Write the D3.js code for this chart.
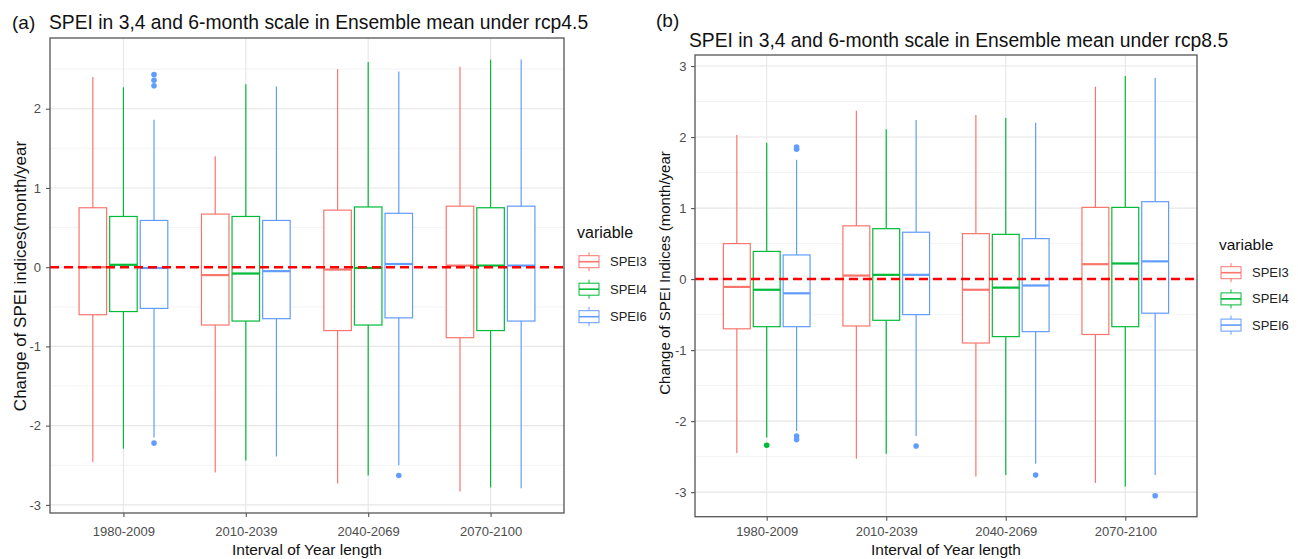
<!DOCTYPE html>
<html><head><meta charset="utf-8">
<script src="https://cdn.jsdelivr.net/npm/d3@7"></script>
<style>body{margin:0;background:#fff;} svg{display:block;font-family:"Liberation Sans",Arial,sans-serif;}</style>
</head><body><svg id="c" width="1298" height="559"></svg>
<script>
// ---------- data ----------
const periods = ["1980-2009","2010-2039","2040-2069","2070-2100"];
const variables = ["SPEI3","SPEI4","SPEI6"];
const colors = ["#F8766D","#00BA38","#619CFF"];
const yTickValues = [-3,-2,-1,0,1,2,3];
const yTickLabels = ["-3","-2","-1","0","1","2","3"];
const refLine = 0;

// rcp4.5 — rows: SPEI3, SPEI4, SPEI6; columns: periods
const r45_lower  = [[-2.46,-2.59,-2.73,-2.83],[-2.29,-2.44,-2.63,-2.78],[-2.15,-2.39,-2.50,-2.79]];
const r45_q1     = [[-0.60,-0.73,-0.80,-0.89],[-0.56,-0.68,-0.73,-0.80],[-0.52,-0.65,-0.64,-0.68]];
const r45_median = [[ 0.00,-0.10,-0.03, 0.02],[ 0.03,-0.08,-0.01, 0.02],[-0.01,-0.05, 0.04, 0.02]];
const r45_q3     = [[ 0.75, 0.67, 0.72, 0.77],[ 0.64, 0.64, 0.76, 0.75],[ 0.59, 0.59, 0.68, 0.77]];
const r45_upper  = [[ 2.40, 1.40, 2.50, 2.53],[ 2.27, 2.31, 2.59, 2.62],[ 1.86, 2.28, 2.47, 2.62]];
const r45_outliers = [["1980-2009","SPEI6",2.43],["1980-2009","SPEI6",2.36],["1980-2009","SPEI6",2.29],
                      ["1980-2009","SPEI6",-2.22],["2040-2069","SPEI6",-2.63]];

// rcp8.5
const r85_lower  = [[-2.45,-2.53,-2.78,-2.87],[-2.23,-2.46,-2.76,-2.92],[-2.14,-2.21,-2.60,-2.76]];
const r85_q1     = [[-0.70,-0.66,-0.90,-0.78],[-0.67,-0.58,-0.81,-0.67],[-0.67,-0.50,-0.74,-0.48]];
const r85_median = [[-0.11, 0.05,-0.15, 0.21],[-0.15, 0.06,-0.12, 0.22],[-0.20, 0.06,-0.09, 0.25]];
const r85_q3     = [[ 0.50, 0.75, 0.64, 1.01],[ 0.39, 0.71, 0.63, 1.01],[ 0.34, 0.66, 0.57, 1.09]];
const r85_upper  = [[ 2.03, 2.37, 2.31, 2.71],[ 1.92, 2.11, 2.27, 2.86],[ 1.68, 2.24, 2.20, 2.83]];
const r85_outliers = [["1980-2009","SPEI4",-2.34],["1980-2009","SPEI6",1.86],["1980-2009","SPEI6",1.83],
                      ["1980-2009","SPEI6",-2.21],["1980-2009","SPEI6",-2.26],["2010-2039","SPEI6",-2.35],
                      ["2040-2069","SPEI6",-2.76],["2070-2100","SPEI6",-3.05]];

// ---------- drawing ----------
const svg = d3.select("#c");
svg.append("rect").attr("width",1298).attr("height",559).attr("fill","#fff");

function panel(P){
  const g = svg.append("g");
  const x = d3.scalePoint().domain(periods).range([P.left,P.right]).padding(0.6);
  const step = x.step();
  const inner = d3.scaleBand().domain(variables).range([-0.375*step,0.375*step]);
  const bw = inner.bandwidth()*0.9;
  const vals = [...P.lower.flat(),...P.upper.flat(),...P.out.map(d=>d[2])];
  const [mn,mx] = d3.extent(vals); const pad=(mx-mn)*0.05;
  const y = d3.scaleLinear().domain([mn-pad,mx+pad]).range([P.bottom,P.top]);
  const [d0,d1] = y.domain();

  g.append("rect").attr("x",P.left).attr("y",P.top).attr("width",P.right-P.left).attr("height",P.bottom-P.top).attr("fill","#fff");
  const major = yTickValues.filter(t=>t>=d0&&t<=d1);
  const minor = d3.range(-3.5,3.6,1).filter(t=>t>=d0&&t<=d1);
  g.selectAll(".mn").data(minor).join("line").attr("x1",P.left).attr("x2",P.right)
    .attr("y1",d=>y(d)).attr("y2",d=>y(d)).attr("stroke","#F0F0F0").attr("stroke-width",0.8);
  g.selectAll(".mj").data(major).join("line").attr("x1",P.left).attr("x2",P.right)
    .attr("y1",d=>y(d)).attr("y2",d=>y(d)).attr("stroke","#E6E6E6").attr("stroke-width",1.1);
  g.selectAll(".vx").data(periods).join("line").attr("x1",d=>x(d)).attr("x2",d=>x(d))
    .attr("y1",P.top).attr("y2",P.bottom).attr("stroke","#E6E6E6").attr("stroke-width",1.1);

  const boxes=[];
  variables.forEach((v,vi)=>periods.forEach((p,pi)=>{
    boxes.push({v,vi,p,cx:x(p)+inner(v)+inner.bandwidth()/2,
      lo:P.lower[vi][pi],q1:P.q1[vi][pi],md:P.median[vi][pi],q3:P.q3[vi][pi],hi:P.upper[vi][pi]});
  }));
  const bg = g.selectAll(".box").data(boxes).join("g");
  bg.append("line").attr("x1",d=>d.cx).attr("x2",d=>d.cx).attr("y1",d=>y(d.hi)).attr("y2",d=>y(d.q3))
    .attr("stroke",d=>colors[d.vi]).attr("stroke-width",1.2);
  bg.append("line").attr("x1",d=>d.cx).attr("x2",d=>d.cx).attr("y1",d=>y(d.q1)).attr("y2",d=>y(d.lo))
    .attr("stroke",d=>colors[d.vi]).attr("stroke-width",1.2);
  bg.append("rect").attr("x",d=>d.cx-bw/2).attr("width",bw).attr("y",d=>y(d.q3)).attr("height",d=>y(d.q1)-y(d.q3))
    .attr("fill","#fff").attr("stroke",d=>colors[d.vi]).attr("stroke-width",1.2);
  bg.append("line").attr("x1",d=>d.cx-bw/2).attr("x2",d=>d.cx+bw/2).attr("y1",d=>y(d.md)).attr("y2",d=>y(d.md))
    .attr("stroke",d=>colors[d.vi]).attr("stroke-width",2.2);
  g.selectAll(".out").data(P.out).join("circle")
    .attr("cx",d=>x(d[0])+inner(d[1])+inner.bandwidth()/2).attr("cy",d=>y(d[2])).attr("r",2.8)
    .attr("fill",d=>colors[variables.indexOf(d[1])]);

  g.append("line").attr("x1",P.left).attr("x2",P.right).attr("y1",y(refLine)).attr("y2",y(refLine))
    .attr("stroke","#FF0000").attr("stroke-width",2.5).attr("stroke-dasharray","9,5");

  g.append("rect").attr("x",P.left).attr("y",P.top).attr("width",P.right-P.left).attr("height",P.bottom-P.top)
    .attr("fill","none").attr("stroke","#555").attr("stroke-width",1.3);

  const ya = g.append("g").attr("transform",`translate(${P.left},0)`)
    .call(d3.axisLeft(y).tickValues(major).tickFormat(d=>yTickLabels[yTickValues.indexOf(d)]).tickSize(4).tickPadding(P.yPad));
  const xa = g.append("g").attr("transform",`translate(0,${P.bottom})`)
    .call(d3.axisBottom(x).tickSize(4).tickPadding(P.xPad));
  [ya,xa].forEach(a=>{a.select(".domain").remove();
    a.selectAll(".tick line").attr("stroke","#555").attr("stroke-width",1.1);
    a.selectAll("text").attr("fill","#4d4d4d").attr("font-size",13).attr("font-family","Liberation Sans, Arial, sans-serif");});

  // axis titles
  g.append("text").attr("transform",`translate(${P.ytX},${P.ytY}) rotate(-90)`).attr("text-anchor","middle")
    .attr("dy","0.35em").attr("font-size",P.ytSize).attr("fill","#111").text(P.ytitle);
  g.append("text").attr("x",(P.left+P.right)/2).attr("y",555).attr("text-anchor","middle")
    .attr("font-size",15.5).attr("fill","#111").text("Interval of Year length");

  // titles
  g.append("text").attr("x",P.tagX).attr("y",P.tagY).attr("font-size",19).attr("fill","#111").text(P.tag);
  g.append("text").attr("x",P.titleX).attr("y",P.titleY).attr("font-size",19.3).attr("fill","#111").text(P.title);

  // legend
  const lg = g.append("g");
  lg.append("text").attr("x",P.lgX).attr("y",P.lgTitleY).attr("font-size",P.lgTitleSize).attr("fill","#111").text("variable");
  variables.forEach((v,i)=>{
    const cy = P.lgKeyY + i*P.lgStep, kx = P.lgX+2;
    const k = lg.append("g").attr("stroke",colors[i]).attr("fill","none").attr("stroke-width",1);
    k.append("line").attr("x1",kx+10).attr("x2",kx+10).attr("y1",cy-9.5).attr("y2",cy+9.5);
    k.append("rect").attr("x",kx).attr("y",cy-6).attr("width",20).attr("height",12).attr("fill","#fff");
    k.append("line").attr("x1",kx).attr("x2",kx+20).attr("y1",cy).attr("y2",cy).attr("stroke-width",1.6);
    lg.append("text").attr("x",kx+31).attr("y",cy).attr("dy","0.35em").attr("font-size",13).attr("fill","#222").text(v);
  });
}

panel({left:50,right:564,top:38,bottom:513,lower:r45_lower,q1:r45_q1,median:r45_median,q3:r45_q3,upper:r45_upper,out:r45_outliers,
  yPad:5,xPad:9.5,ytX:20,ytY:276,ytSize:17,ytitle:"Change of SPEI indices(month/year",
  tag:"(a)",tagX:12,tagY:29,title:"SPEI in 3,4 and 6-month scale in Ensemble mean under rcp4.5",titleX:49,titleY:29,
  lgX:577,lgTitleY:238,lgTitleSize:16,lgKeyY:261.7,lgStep:27.5});
panel({left:695,right:1197,top:55,bottom:516.7,lower:r85_lower,q1:r85_q1,median:r85_median,q3:r85_q3,upper:r85_upper,out:r85_outliers,
  yPad:4.5,xPad:6,ytX:665,ytY:273,ytSize:15,ytitle:"Change of SPEI Indices (month/year",
  tag:"(b)",tagX:656,tagY:27,title:"SPEI in 3,4 and 6-month scale in Ensemble mean under rcp8.5",titleX:689,titleY:46.5,
  lgX:1219,lgTitleY:249.5,lgTitleSize:15.5,lgKeyY:272.7,lgStep:26.2});
</script></body></html>
